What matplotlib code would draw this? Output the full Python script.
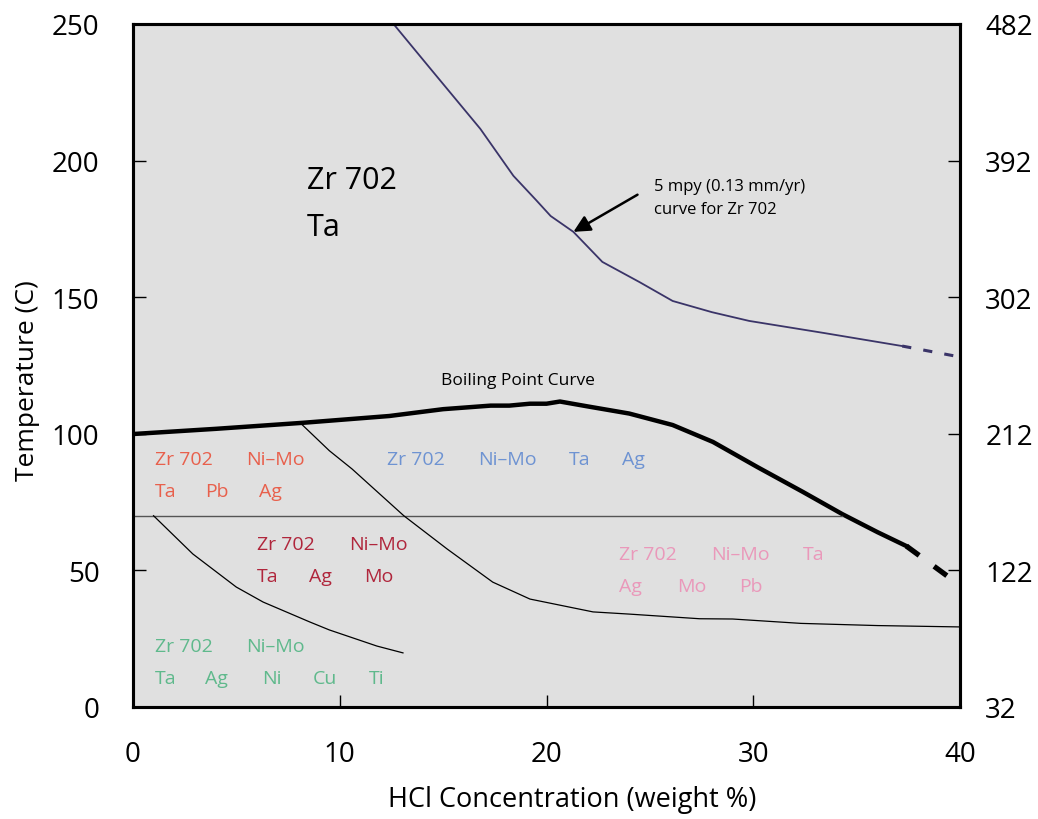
import matplotlib
matplotlib.use("Agg")
import matplotlib.pyplot as plt

plt.rcParams['font.family'] = ['Open Sans', 'DejaVu Sans']

# ---- data ----
# 5 mpy (0.13 mm/yr) iso-corrosion curve for Zr 702
mpy_x = [12.6, 14.4, 16.8, 18.4, 19.5, 20.2, 21.3, 22.7, 24.5, 26.1, 28.0, 29.8, 33.4, 37.2]
mpy_y = [250, 233.5, 211.6, 194.4, 185.5, 179.7, 173.9, 162.9, 155.5, 148.6, 144.5, 141.3, 136.9, 132.1]
mpy_dash_x = [37.2, 40.0]
mpy_dash_y = [132.1, 128.1]

# boiling point curve
bp_x = [0, 4, 8.2, 12.4, 15, 17.3, 18.2, 19.2, 20.0, 20.65, 22, 24.0, 26.1, 28.05, 30.2, 32.4, 34.3, 36.0, 37.4]
bp_y = [99.9, 101.8, 104.0, 106.5, 109.0, 110.3, 110.3, 111.0, 111.0, 111.8, 110.0, 107.4, 103.2, 97.0, 87.8, 78.7, 70.6, 64.0, 58.9]
bp_dash_x = [37.4, 40.0]
bp_dash_y = [58.9, 44.5]

# 70 C boundary line
h_x = [0, 34.3]
h_y = [70, 70]

# thin boundary curve (upper)
c1_x = [8.2, 9.5, 10.6, 13.1, 15.2, 17.4, 19.2, 22.25, 24.0, 27.4, 29.0, 32.3, 36.0, 40.0]
c1_y = [103.2, 93.8, 87.1, 70.0, 57.8, 45.7, 39.5, 34.8, 34.0, 32.3, 32.2, 30.6, 29.8, 29.3]

# thin boundary curve (lower)
c2_x = [1.0, 2.9, 5.0, 6.3, 8.56, 9.5, 11.8, 13.06]
c2_y = [70.0, 56.0, 43.9, 38.4, 31.1, 28.2, 22.3, 19.8]

x_ticks = [0, 10, 20, 30, 40]
y_ticks = [0, 50, 100, 150, 200, 250]
f_ticks = [32, 122, 212, 302, 392, 482]

# region labels: (text, x, y, colour)
red_c = '#E8604C'
blue_c = '#6E93D2'
dred_c = '#B0263C'
pink_c = '#EA98BA'
green_c = '#5FB98C'
labels = [
    ('Zr 702', 1.06, 90.8, red_c), ('Ni\u2013Mo', 5.47, 90.8, red_c),
    ('Ta', 1.06, 79.0, red_c), ('Pb', 3.5, 79.0, red_c), ('Ag', 6.1, 79.0, red_c),
    ('Zr 702', 12.3, 90.8, blue_c), ('Ni\u2013Mo', 16.7, 90.8, blue_c),
    ('Ta', 21.1, 90.8, blue_c), ('Ag', 23.65, 90.8, blue_c),
    ('Zr 702', 6.0, 59.7, dred_c), ('Ni\u2013Mo', 10.45, 59.7, dred_c),
    ('Ta', 6.0, 48.0, dred_c), ('Ag', 8.5, 48.0, dred_c), ('Mo', 11.2, 48.0, dred_c),
    ('Zr 702', 23.5, 56.0, pink_c), ('Ni\u2013Mo', 27.95, 56.0, pink_c), ('Ta', 32.4, 56.0, pink_c),
    ('Ag', 23.5, 44.3, pink_c), ('Mo', 26.3, 44.3, pink_c), ('Pb', 29.3, 44.3, pink_c),
    ('Zr 702', 1.06, 22.3, green_c), ('Ni\u2013Mo', 5.47, 22.3, green_c),
    ('Ta', 1.06, 10.6, green_c), ('Ag', 3.5, 10.6, green_c), ('Ni', 6.24, 10.6, green_c),
    ('Cu', 8.7, 10.6, green_c), ('Ti', 11.4, 10.6, green_c),
]

# ---- figure ----
fig = plt.figure(figsize=(10.38, 8.2), dpi=100)
ax = fig.add_axes([0.128, 0.1366, 0.797, 0.833])
ax.set_facecolor('#E0E0E0')
ax.set_xlim(0, 40)
ax.set_ylim(0, 250)

purple = '#3A3468'
ax.plot(mpy_x, mpy_y, color=purple, lw=1.3, solid_joinstyle='round')
ax.plot(mpy_dash_x, mpy_dash_y, color=purple, lw=2.2, dashes=(3, 4))
ax.plot(bp_x, bp_y, color='black', lw=3.2, solid_joinstyle='round')
ax.plot(bp_dash_x, bp_dash_y, color='black', lw=3.8, dashes=(3, 3.5))
ax.plot(h_x, h_y, color='#555555', lw=1.0)
ax.plot(c1_x, c1_y, color='black', lw=0.9)
ax.plot(c2_x, c2_y, color='black', lw=0.9)

for t, x, y, c in labels:
    ax.text(x, y, t, color=c, fontsize=14, ha='left', va='center')

ax.text(8.4, 193, 'Zr 702', fontsize=22, ha='left', va='center')
ax.text(8.4, 175.7, 'Ta', fontsize=22, ha='left', va='center')
ax.text(18.6, 119.5, 'Boiling Point Curve', fontsize=12.5, ha='center', va='center')
ax.text(25.2, 186.5, '5 mpy (0.13 mm/yr)\ncurve for Zr 702', fontsize=12,
        ha='left', va='center', linespacing=1.6)
ax.annotate('', xy=(21.3, 173.9), xytext=(24.4, 187.5),
            arrowprops=dict(arrowstyle='-|>', color='black', lw=1.8,
                            mutation_scale=25, shrinkA=0, shrinkB=0))

ax.set_xticks(x_ticks)
ax.set_yticks(y_ticks)
ax.tick_params(direction='in', length=9, width=1, labelsize=20)
ax.tick_params(axis='x', pad=24)
ax.tick_params(axis='y', pad=24)
for s in ax.spines.values():
    s.set_linewidth(2.2)

ax.set_xlabel('HCl Concentration (weight %)', fontsize=19.5, va='center')
ax.xaxis.set_label_coords(0.531, -0.135)
ax.set_ylabel('Temperature (C)', fontsize=19, va='center')
ax.yaxis.set_label_coords(-0.127, 0.479)

ax2 = ax.twinx()
ax2.set_ylim(32, 482)
ax2.set_yticks(f_ticks)
ax2.tick_params(direction='in', length=9, width=1, labelsize=20, pad=18)
for s in ax2.spines.values():
    s.set_linewidth(2.2)

fig.savefig('out.png', dpi=100, facecolor='white')
